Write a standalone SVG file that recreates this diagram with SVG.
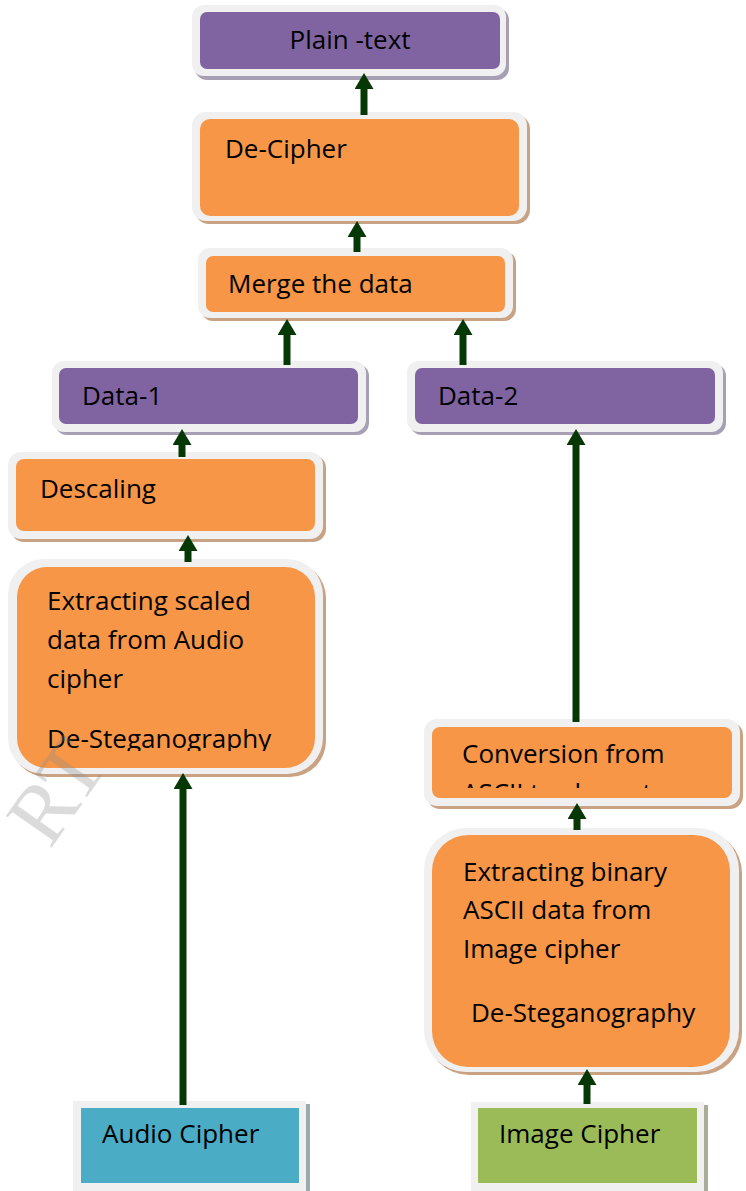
<svg xmlns="http://www.w3.org/2000/svg" width="746" height="1191" viewBox="0 0 746 1191">
<defs>
<style>
.t{font-family:"Open Sans","Noto Sans","Liberation Sans",sans-serif;font-size:26px;fill:#000}
.bd{fill:#f0f0f0}
.shp{fill:#a79fb4}
.sho{fill:#c9a283}
.shg{fill:#9aa8b0}
.pur{fill:#8064a2}
.org{fill:#f79646}
.blu{fill:#4bacc6}
.grn{fill:#9bbb59}
.ar{stroke:#063806;stroke-width:7;fill:none;marker-end:url(#ah)}
</style>
<marker id="ah" markerUnits="userSpaceOnUse" markerWidth="16" markerHeight="19" viewBox="0 0 16 19" refX="1" refY="9.5" orient="auto">
<path d="M0,0 L16,9.5 L0,19 Z" fill="#063806"/>
</marker>
<clipPath id="c1"><rect x="17" y="567" width="298" height="184"/></clipPath>
<clipPath id="c2"><rect x="432" y="727" width="300" height="61"/></clipPath>
</defs>
<rect width="746" height="1191" fill="#fff"/>

<g id="plain-text">
<rect class="shp" x="195" y="8" width="314" height="72" rx="12"/>
<rect class="bd" x="192" y="5" width="314" height="71" rx="12"/>
<rect class="pur" x="200" y="12" width="300" height="57" rx="7"/>
<text class="t" x="350" y="49" text-anchor="middle">Plain -text</text>
</g>

<g id="de-cipher">
<rect class="sho" x="195" y="115" width="335" height="109" rx="14"/>
<rect class="bd" x="192" y="112" width="335" height="109" rx="14"/>
<rect class="org" x="200" y="119" width="319" height="97" rx="10"/>
<text class="t" x="225" y="158">De-Cipher</text>
</g>

<g id="merge">
<rect class="sho" x="201" y="251" width="315" height="70" rx="12"/>
<rect class="bd" x="198" y="248" width="315" height="70" rx="12"/>
<rect class="org" x="206" y="256" width="299" height="56" rx="7"/>
<text class="t" x="228" y="293">Merge the data</text>
</g>

<g id="data-1">
<rect class="shp" x="55" y="364" width="314" height="71" rx="12"/>
<rect class="bd" x="52" y="361" width="314" height="71" rx="12"/>
<rect class="pur" x="59" y="368" width="299" height="56" rx="7"/>
<text class="t" x="82" y="405">Data-1</text>
</g>

<g id="data-2">
<rect class="shp" x="410" y="364" width="316" height="71" rx="12"/>
<rect class="bd" x="407" y="361" width="316" height="71" rx="12"/>
<rect class="pur" x="415" y="368" width="300" height="56" rx="7"/>
<text class="t" x="438" y="405">Data-2</text>
</g>

<g id="descaling">
<rect class="sho" x="11" y="455" width="315" height="87" rx="13"/>
<rect class="bd" x="8" y="452" width="315" height="87" rx="13"/>
<rect class="org" x="16" y="459" width="299" height="72" rx="8"/>
<text class="t" x="40" y="498">Descaling</text>
</g>

<g id="extract-audio">
<rect class="sho" x="11" y="562" width="315" height="215" rx="36"/>
<rect class="bd" x="8" y="559" width="315" height="215" rx="36"/>
<rect class="org" x="17" y="567" width="298" height="201" rx="30"/>
<g clip-path="url(#c1)">
<text class="t" x="47" y="610">Extracting scaled</text>
<text class="t" x="47" y="649">data from Audio</text>
<text class="t" x="47" y="688">cipher</text>
<text class="t" x="47" y="748">De-Steganography</text>
</g>
</g>

<g id="conversion">
<rect class="sho" x="427" y="722" width="316" height="87" rx="13"/>
<rect class="bd" x="424" y="719" width="316" height="87" rx="13"/>
<rect class="org" x="432" y="727" width="300" height="71" rx="8"/>
<g clip-path="url(#c2)">
<text class="t" x="462" y="763">Conversion from</text>
<text class="t" x="462" y="802">ASCII to character</text>
</g>
</g>

<g id="extract-image">
<rect class="sho" x="427" y="831" width="315" height="244" rx="42"/>
<rect class="bd" x="424" y="828" width="315" height="244" rx="42"/>
<rect class="org" x="432" y="835" width="298" height="232" rx="36"/>
<text class="t" x="463" y="881">Extracting binary</text>
<text class="t" x="463" y="919">ASCII data from</text>
<text class="t" x="463" y="958">Image cipher</text>
<text class="t" x="471" y="1022">De-Steganography</text>
</g>

<g id="audio-cipher">
<rect class="shg" x="76" y="1104" width="234" height="87"/>
<rect class="bd" x="73" y="1101" width="233" height="90"/>
<rect class="blu" x="81" y="1108" width="218" height="75"/>
<text class="t" x="102" y="1143">Audio Cipher</text>
</g>

<g id="image-cipher">
<rect fill="#a8ad98" x="474" y="1105" width="234" height="86"/>
<rect class="bd" x="471" y="1102" width="233" height="89"/>
<rect class="grn" x="478" y="1108" width="219" height="75"/>
<text class="t" x="499" y="1143">Image Cipher</text>
</g>

<g id="connectors">
<line class="ar" x1="364" y1="115" x2="364" y2="88"/>
<line class="ar" x1="357" y1="252" x2="357" y2="236"/>
<line class="ar" x1="287" y1="365" x2="287" y2="334"/>
<line class="ar" x1="463" y1="365" x2="463" y2="334"/>
<line class="ar" x1="182" y1="457" x2="182" y2="444"/>
<line class="ar" x1="188" y1="562" x2="188" y2="550"/>
<line class="ar" x1="576" y1="722" x2="576" y2="444"/>
<line class="ar" x1="183" y1="1105" x2="183" y2="788"/>
<line class="ar" x1="577" y1="830" x2="577" y2="818"/>
<line class="ar" x1="587" y1="1104" x2="587" y2="1084"/>
</g>

<g id="watermark" opacity="0.3">
<text x="50" y="850" transform="rotate(-55 50 850)" font-family="Liberation Serif, serif" font-size="85" fill="#8a8a8a">RT</text>
</g>
</svg>
